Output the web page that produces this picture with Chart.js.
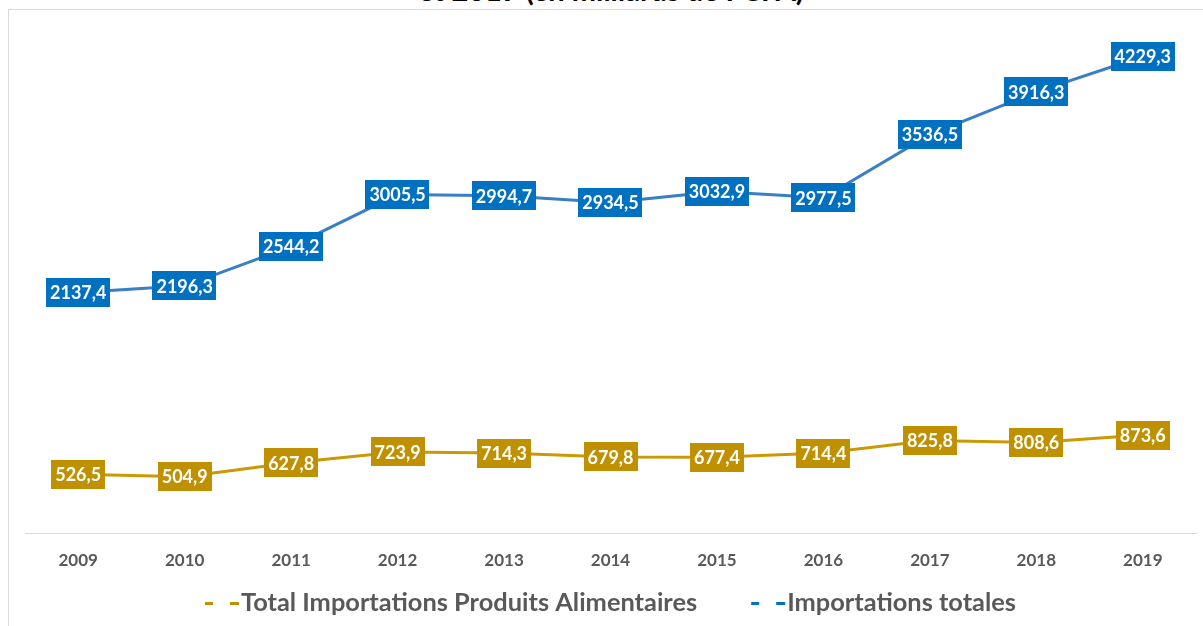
<!DOCTYPE html>
<html>
<head>
<meta charset="utf-8">
<script src="https://cdn.jsdelivr.net/npm/chart.js@4/dist/chart.umd.min.js"></script>
<style>
  html,body{margin:0;padding:0;background:#fff;overflow:hidden;}
  #wrap{position:relative;width:1203px;height:626px;overflow:hidden;background:#fff;}
  #frame{position:absolute;left:8px;top:9px;width:1400px;height:800px;border-left:1px solid #d9d9d9;border-top:1px solid #d9d9d9;}
  #title{position:absolute;left:0;width:1222px;top:-25px;text-align:center;font:bold 29px Lato, sans-serif;color:#000;line-height:29px;white-space:nowrap;}
  #c{position:absolute;left:0;top:0;}
</style>
</head>
<body>
<div id="wrap">
  <div id="frame"></div>
  <div id="title">et 2019 (en milliards de FCFA)</div>
  <canvas id="c" width="1203" height="626"></canvas>
</div>
<script>
const years = ['2009','2010','2011','2012','2013','2014','2015','2016','2017','2018','2019'];
const foodImports = [526.5, 504.9, 627.8, 723.9, 714.3, 679.8, 677.4, 714.4, 825.8, 808.6, 873.6];
const totalImports = [2137.4, 2196.3, 2544.2, 3005.5, 2994.7, 2934.5, 3032.9, 2977.5, 3536.5, 3916.3, 4229.3];
const seriesNames = ['Total Importations Produits Alimentaires', 'Importations totales'];

const GOLD = '#BF9000', GOLD_LINE = '#C99A06';
const BLUE = '#0070C0', BLUE_LINE = '#3A7EC6';

const fmt = v => v.toFixed(1).replace('.', ',');

const labelPlugin = {
  id: 'boxLabels',
  afterDatasetsDraw(chart){
    const ctx = chart.ctx;
    ctx.save();
    ctx.font = 'bold 18px Lato, sans-serif';
    ctx.textAlign = 'center';
    ctx.textBaseline = 'middle';
    chart.data.datasets.forEach((ds, i) => {
      const meta = chart.getDatasetMeta(i);
      meta.data.forEach((pt, j) => {
        const t = fmt(ds.data[j]);
        const w = ctx.measureText(t).width + 8;
        const h = 29;
        ctx.fillStyle = ds.labelBg;
        ctx.fillRect(Math.round(pt.x - w/2), Math.round(pt.y - h/2), Math.round(w), h);
        ctx.fillStyle = '#fff';
        ctx.fillText(t, pt.x, pt.y + 1);
      });
    });
    ctx.restore();
  }
};

const legendPlugin = {
  id: 'dashLegend',
  afterDraw(chart){
    const ctx = chart.ctx;
    const ca = chart.chartArea;
    ctx.save();
    ctx.font = 'bold 25.4px Lato, sans-serif';
    ctx.textBaseline = 'middle';
    ctx.textAlign = 'left';
    const iconW = 34, gap = 2, spacing = 54;
    const items = chart.data.datasets.map(ds => ({ ds, tw: ctx.measureText(ds.label).width }));
    const total = items.reduce((s, it) => s + iconW + gap + it.tw, 0) + spacing * (items.length - 1);
    let x = (ca.left + ca.right) / 2 - total / 2;
    const y = 603;
    items.forEach(it => {
      ctx.fillStyle = it.ds.labelBg;
      ctx.fillRect(x, y - 1, 8, 3);
      ctx.fillRect(x + 25, y - 1, 9, 3);
      x += iconW + gap;
      ctx.fillStyle = '#595959';
      ctx.fillText(it.ds.label, x, y);
      x += it.tw + spacing;
    });
    ctx.restore();
  }
};

new Chart(document.getElementById('c'), {
  type: 'line',
  data: {
    labels: years,
    datasets: [
      { label: seriesNames[0], data: foodImports, borderColor: GOLD_LINE, backgroundColor: GOLD, labelBg: GOLD,
        borderWidth: 3, pointRadius: 0, tension: 0 },
      { label: seriesNames[1], data: totalImports, borderColor: BLUE_LINE, backgroundColor: BLUE, labelBg: BLUE,
        borderWidth: 3, pointRadius: 0, tension: 0 }
    ]
  },
  options: {
    responsive: false,
    animation: false,
    layout: { padding: { left: 25, right: 7, top: 26, bottom: 38 } },
    scales: {
      x: {
        offset: true,
        grid: { display: false, drawTicks: false },
        border: { display: true, color: '#d9d9d9', width: 1 },
        ticks: { color: '#595959', font: { family: 'Lato, sans-serif', size: 17, weight: 'bold' }, padding: 17 }
      },
      y: {
        display: false,
        min: 0, max: 4500
      }
    },
    plugins: {
      legend: { display: false },
      tooltip: { enabled: false }
    }
  },
  plugins: [labelPlugin, legendPlugin]
});
</script>
</body>
</html>
